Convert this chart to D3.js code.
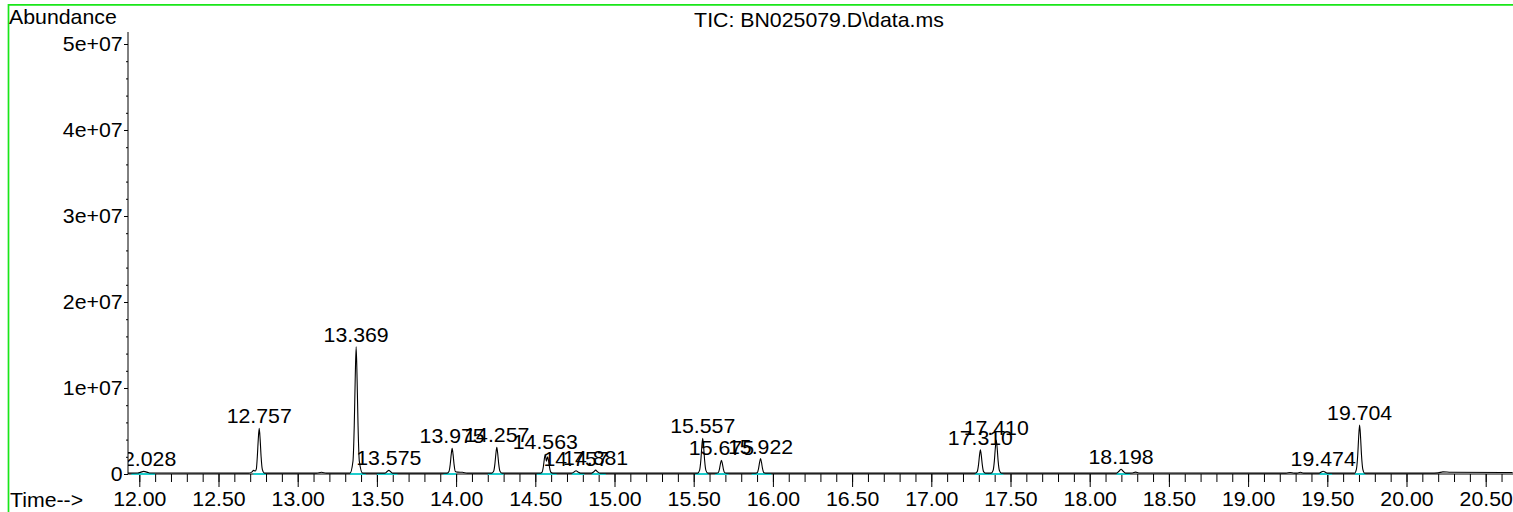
<!DOCTYPE html>
<html>
<head>
<meta charset="utf-8">
<script src="https://cdn.jsdelivr.net/npm/d3@7/dist/d3.min.js"></script>
<style>
  html, body { margin: 0; padding: 0; background: #fff; }
  svg { display: block; }
  text { font-family: "Liberation Sans", Arial, sans-serif; font-size: 20px; fill: #000; }
</style>
</head>
<body>
<svg id="chart" width="1513" height="512"></svg>
<script>
// ---------- DATA ----------
const titleText = "TIC: BN025079.D\\data.ms";
const yAxisTitle = "Abundance";
const xAxisTitle = "Time-->";

const xTickValues = [12.0, 12.5, 13.0, 13.5, 14.0, 14.5, 15.0, 15.5, 16.0, 16.5, 17.0, 17.5, 18.0, 18.5, 19.0, 19.5, 20.0, 20.5];
const xTickLabels = ["12.00","12.50","13.00","13.50","14.00","14.50","15.00","15.50","16.00","16.50","17.00","17.50","18.00","18.50","19.00","19.50","20.00","20.50"];
const yTickValues = [0, 1e7, 2e7, 3e7, 4e7, 5e7];
const yTickLabels = ["0", "1e+07", "2e+07", "3e+07", "4e+07", "5e+07"];

// TIC trace: [retention time (min), abundance]
const tracePoints = [
  [11.92,1e5],[11.99,1.1e5],[12.01,2.2e5],[12.028,3.0e5],[12.048,2.2e5],[12.07,1.1e5],
  [12.69,1e5],[12.712,2.5e5],[12.722,4.2e5],[12.732,3.5e5],[12.739,6e5],[12.745,2.0e6],[12.751,4.0e6],[12.757,5.3e6],[12.763,4.0e6],[12.769,2.0e6],[12.777,5e5],[12.79,1e5],
  [13.12,1e5],[13.15,2e5],[13.18,1e5],
  [13.33,1e5],[13.349,1.5e6],[13.357,5.6e6],[13.363,1.1e7],[13.369,1.48e7],[13.375,1.1e7],[13.381,5.6e6],[13.389,1.5e6],[13.41,1e5],
  [13.55,1e5],[13.563,2.6e5],[13.575,4.2e5],[13.587,2.6e5],[13.60,1e5],
  [13.943,1e5],[13.955,3e5],[13.963,1.14e6],[13.969,2.25e6],[13.975,3.0e6],[13.981,2.25e6],[13.987,1.14e6],[13.995,3e5],[14.01,2.2e5],[14.04,2.0e5],[14.07,1e5],
  [14.225,1e5],[14.237,3.1e5],[14.245,1.18e6],[14.251,2.33e6],[14.257,3.1e6],[14.263,2.33e6],[14.269,1.18e6],[14.277,3.1e5],[14.289,1e5],
  [14.531,1e5],[14.543,2.3e5],[14.551,8.7e5],[14.557,1.73e6],[14.563,2.3e6],[14.570,1.5e6],[14.578,2.0e6],[14.584,1.5e6],[14.590,7.6e5],[14.598,2e5],[14.61,1e5],
  [14.73,1e5],[14.745,2.4e5],[14.757,3.8e5],[14.769,2.4e5],[14.785,1e5],
  [14.855,1e5],[14.869,2.6e5],[14.881,4.5e5],[14.893,2.6e5],[14.908,1e5],
  [15.525,1e5],[15.537,4.2e5],[15.545,1.58e6],[15.551,3.11e6],[15.557,4.15e6],[15.563,3.11e6],[15.569,1.58e6],[15.577,4.2e5],[15.589,1e5],
  [15.643,1e5],[15.655,1.6e5],[15.663,6.1e5],[15.669,1.2e6],[15.675,1.6e6],[15.681,1.2e6],[15.687,6.1e5],[15.695,1.6e5],[15.707,1e5],
  [15.890,1e5],[15.902,1.8e5],[15.910,6.8e5],[15.916,1.35e6],[15.922,1.8e6],[15.928,1.35e6],[15.934,6.8e5],[15.942,1.8e5],[15.954,1e5],
  [17.278,1e5],[17.290,2.8e5],[17.298,1.06e6],[17.304,2.1e6],[17.310,2.8e6],[17.316,2.1e6],[17.322,1.06e6],[17.330,2.8e5],[17.342,1e5],
  [17.378,1e5],[17.390,4e5],[17.398,1.5e6],[17.404,2.96e6],[17.410,3.95e6],[17.416,2.96e6],[17.422,1.5e6],[17.430,4e5],[17.442,1e5],
  [18.17,1e5],[18.185,3.2e5],[18.198,5.5e5],[18.211,3.2e5],[18.226,1e5],[18.27,1.2e5],[18.29,2.2e5],[18.31,1.2e5],
  [19.24,1e5],[19.265,1.8e5],[19.29,1e5],[19.31,1e5],[19.33,2e5],[19.35,1e5],
  [19.45,1e5],[19.462,2.2e5],[19.474,3.2e5],[19.486,2.2e5],[19.50,1e5],
  [19.672,1e5],[19.684,5.7e5],[19.692,2.17e6],[19.698,4.28e6],[19.704,5.7e6],[19.710,4.28e6],[19.716,2.17e6],[19.724,5.7e5],[19.736,1e5],
  [20.15,1e5],[20.20,1.3e5],[20.23,2.5e5],[20.28,2.0e5],[20.67,1.8e5]
];

// labelled peaks: label text, apex time, apex abundance
const peakLabels = ["12.028","12.757","13.369","13.575","13.975","14.257","14.563","14.757","14.881","15.557","15.675","15.922","17.310","17.410","18.198","19.474","19.704"];
const peakTimes  = [12.028, 12.757, 13.369, 13.575, 13.975, 14.257, 14.563, 14.757, 14.881, 15.557, 15.675, 15.922, 17.310, 17.410, 18.198, 19.474, 19.704];
const peakHeights = [3.0e5, 5.3e6, 1.48e7, 4.2e5, 3.0e6, 3.1e6, 2.3e6, 3.8e5, 4.5e5, 4.15e6, 1.6e6, 1.8e6, 2.8e6, 3.95e6, 5.5e5, 3.2e5, 5.7e6];
// integration baselines: start / end time
const integStart = [11.95, 12.72, 13.33, 13.50, 13.92, 14.20, 14.51, 14.73, 14.856, 15.51, 15.635, 15.866, 17.275, 17.36, 18.17, 19.45, 19.675];
const integEnd   = [12.10, 12.80, 13.43, 13.63, 14.00, 14.30, 14.635, 14.81, 14.945, 15.59, 15.72, 15.99, 17.36, 17.455, 18.255, 19.53, 19.74];

// ---------- CHART ----------
const W = 1513, H = 512;
const SX = 1.065; // horizontal glyph stretch
const FONT = "'Liberation Sans', Arial, sans-serif";
const svg = d3.select("#chart");

const plotLeft = 128, plotRight = W, plotTop = 32, plotBottom = 474;
const x = d3.scaleLinear().domain([12, 20.5]).range([139.3, 1485.7]);
const y = d3.scaleLinear().domain([0, 5e7]).range([plotBottom, 44]);

function label(parent, px, py, str, anchor) {
  return parent.append("text")
    .attr("transform", `translate(${px},${py}) scale(${SX},1)`)
    .attr("text-anchor", anchor || "start")
    .text(str);
}

// green frame
svg.append("line").attr("x1", 8.5).attr("x2", W).attr("y1", 4.8).attr("y2", 4.8)
  .attr("stroke", "#19e619").attr("stroke-width", 1.7);
svg.append("line").attr("x1", 8.5).attr("x2", 8.5).attr("y1", 4).attr("y2", H)
  .attr("stroke", "#19e619").attr("stroke-width", 1.7);

// titles
label(svg, 9, 23.5, yAxisTitle, "start");
label(svg, 819, 27, titleText, "middle");
label(svg, 10, 507, xAxisTitle, "start");

// clip
svg.append("defs").append("clipPath").attr("id", "plotclip")
  .append("rect").attr("x", plotLeft).attr("y", 0).attr("width", plotRight - plotLeft).attr("height", plotBottom + 2);

// y axis
const yAxis = d3.axisLeft(y).tickValues(yTickValues)
  .tickFormat((d, i) => yTickLabels[i]).tickSize(4).tickPadding(2);
const gy = svg.append("g").attr("transform", `translate(${plotLeft},0)`).call(yAxis);
gy.select(".domain").remove();
gy.selectAll(".tick line").attr("stroke", "#000");
gy.selectAll(".tick text")
  .attr("x", -5).attr("dy", "0.34em")
  .attr("transform", `scale(${SX},1)`)
  .style("font-size", "20px").style("font-family", FONT);
// y minor ticks
const yMinor = d3.range(0, 5.1e7, 2e6);
const yMinorAxis = d3.axisLeft(y).tickValues(yMinor).tickFormat("").tickSize(2);
const gym = svg.append("g").attr("transform", `translate(${plotLeft},0)`).call(yMinorAxis);
gym.select(".domain").remove();
svg.append("line").attr("x1", plotLeft).attr("x2", plotLeft).attr("y1", plotTop).attr("y2", plotBottom)
  .attr("stroke", "#000").attr("stroke-width", 1);

// x axis
const xAxis = d3.axisBottom(x).tickValues(xTickValues)
  .tickFormat((d, i) => xTickLabels[i]).tickSize(13);
const gx = svg.append("g").attr("transform", `translate(0,${plotBottom})`).call(xAxis);
gx.select(".domain").remove();
gx.selectAll(".tick text")
  .attr("y", 32).attr("dy", "0")
  .attr("transform", `scale(${SX},1)`)
  .style("font-size", "20px").style("font-family", FONT);
const xMinor = d3.range(12.0, 20.65, 0.1);
const xMinorAxis = d3.axisBottom(x).tickValues(xMinor).tickFormat("").tickSize(8);
const gxm = svg.append("g").attr("transform", `translate(0,${plotBottom})`).call(xMinorAxis);
gxm.select(".domain").remove();
svg.append("line").attr("x1", plotLeft).attr("x2", plotRight).attr("y1", plotBottom).attr("y2", plotBottom)
  .attr("stroke", "#000").attr("stroke-width", 1);

// plot content
const gp = svg.append("g").attr("clip-path", "url(#plotclip)");

// integration baselines
gp.selectAll("line.integ").data(integStart).enter().append("line")
  .attr("class", "integ")
  .attr("x1", d => x(d)).attr("x2", (d, i) => x(integEnd[i]))
  .attr("y1", plotBottom).attr("y2", plotBottom)
  .attr("stroke", "#1ccccc").attr("stroke-width", 2);

// trace
const line = d3.line().x(d => x(d[0])).y(d => y(d[1])).curve(d3.curveMonotoneX);
gp.append("path").datum(tracePoints)
  .attr("d", line).attr("fill", "none").attr("stroke", "#000").attr("stroke-width", 1.1);

// peak labels
peakLabels.forEach((t, i) => {
  label(gp, x(peakTimes[i]), y(peakHeights[i]) - 5, t, "middle");
});
</script>
</body>
</html>
